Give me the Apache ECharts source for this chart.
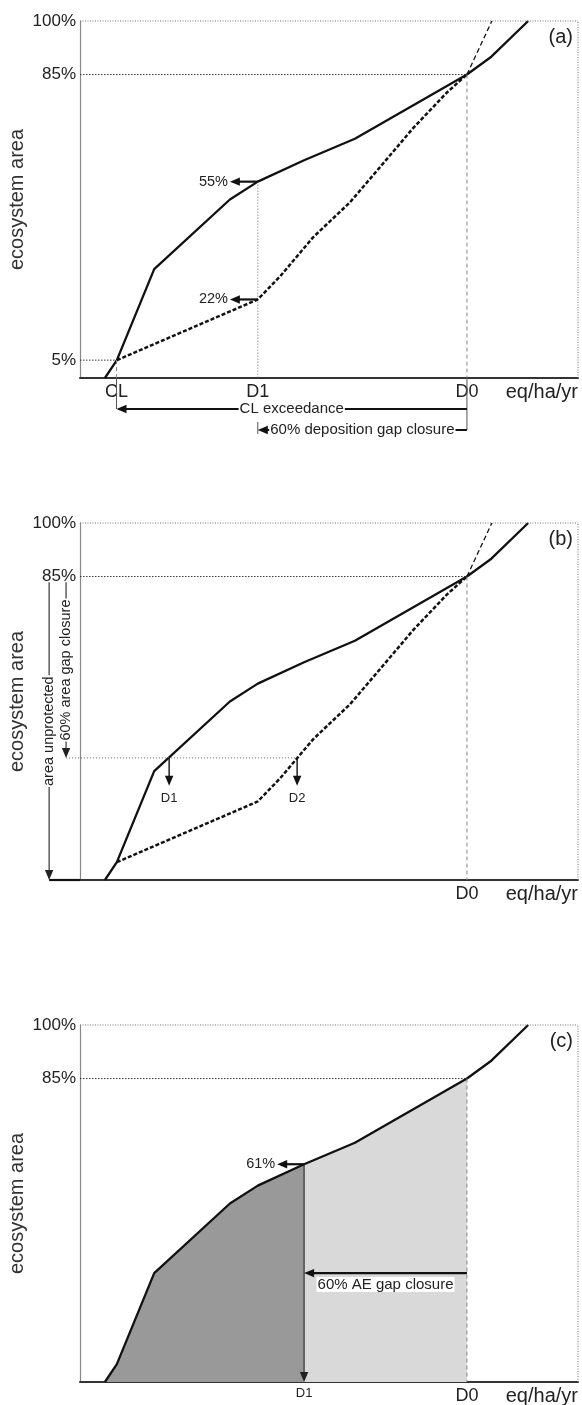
<!DOCTYPE html>
<html><head><meta charset="utf-8">
<script src="https://cdn.jsdelivr.net/npm/echarts@6/dist/echarts.min.js"></script>
<style>html,body{margin:0;padding:0;background:#fff}#c{width:582px;height:1405px}</style>
</head><body><div id="c"></div>
<script>
// ---------------- DATA ----------------
// x: deposition (relative scale 0-100), y: ecosystem area (%)
const solidCurve = [[5,0],[7.4,5],[14.9,30.5],[30.1,50],[35.7,55],[45,61],[55.2,67],[77.7,85],[82.6,90],[90,100]];
const dashedCurveLow = [[7.4,5],[35.7,22],[40.2,28.5],[46.8,39.4],[54.2,49.2],[60.2,59],[66.9,70],[73.7,80],[77.7,85]];
const dashedCurveHigh = [[77.7,85],[82.7,100]];

// key deposition values
const CL = 7.33, D1a = 35.7, D0 = 77.7, D1b = 17.9, D2b = 43.6, D1c = 45.0;
// key area values (%)
const pctCL = 5, pctD1solid = 55, pctD1dashed = 22, pctTarget = 85, pctTop = 100, pctB = 34.2, pctC = 61, pctAE = 30.5;

// tick labels
const yTicksA = [5, 85, 100], yTickLabelsA = ['5%', '85%', '100%'];
const yTicksBC = [85, 100], yTickLabelsBC = ['85%', '100%'];
const xTicksA = [CL, D1a, D0], xTickLabelsA = ['CL', 'D1', 'D0'];
const xTicksB = [D0], xTickLabelsB = ['D0'];
const xTicksC = [D1c, D0], xTickLabelsC = ['{s|D1}', 'D0'];
const panelLabels = ['(a)', '(b)', '(c)'];
const yTitle = 'ecosystem area', xUnit = 'eq/ha/yr';

// ---------------- STYLES / LAYOUT ----------------
const FONT = '"Liberation Sans", Arial, Helvetica, sans-serif';
const TXT = '#222';
const GRIDS = [{top:21},{top:523},{top:1025}];
const PXPCT = 3.57; // px per % (for below-axis offsets)
const STYLES = {
  dot:    {color:'#333', width:1, dash:[1.5,1.5]},
  dotGray:{color:'#777', width:1, dash:[1,1.5]},
  vdash:  {color:'#888', width:1, dash:[4,3]},
  vdot:   {color:'#666', width:1, dash:[1,2]},
  thin:   {color:'#555', width:1},
  arrow:  {color:'#111', width:2.2},
  arrowM: {color:'#111', width:1.4},
  arrowT: {color:'#222', width:1.1}
};
const ARROW_L = 10, ARROW_W = 4.2;
const yBelow = px => -px / PXPCT;

// annotation lists built from the named values
const annA = [
  {from:[0,pctTop], to:[100,pctTop], st:'dotGray'},
  {from:[100,0], to:[100,pctTop], st:'dotGray'},
  {from:[0,pctTarget], to:[D0,pctTarget], st:'dot'},
  {from:[0,pctCL], to:[CL,pctCL], st:'dot'},
  {from:[CL,pctCL], to:[CL,0], st:'vdash'},
  {from:[CL,0], to:[CL,yBelow(31)], st:'thin'},
  {from:[D1a,pctD1solid], to:[D1a,0], st:'vdot'},
  {from:[D1a,yBelow(44)], to:[D1a,yBelow(56)], st:'thin'},
  {from:[D0,pctTarget], to:[D0,0], st:'vdash'},
  {from:[D0,0], to:[D0,yBelow(52)], st:'thin'},
  {from:[D1a,pctD1solid], to:[30.1,pctD1solid], st:'arrow', arrow:true, text:'55%', pos:'end', size:14.5},
  {from:[D1a,pctD1dashed], to:[30.1,pctD1dashed], st:'arrow', arrow:true, text:'22%', pos:'end', size:14.5},
  {from:[D0,yBelow(31)], to:[CL,yBelow(31)], st:'arrow', arrow:true, text:'CL exceedance', pos:'middle', size:15},
  {from:[D0,yBelow(52)], to:[D1a,yBelow(52)], st:'arrow', arrow:true, text:'60% deposition gap closure', pos:'middle', size:15}
];
const annB = [
  {from:[0,pctTop], to:[100,pctTop], st:'dotGray'},
  {from:[100,0], to:[100,pctTop], st:'dotGray'},
  {from:[0,pctTarget], to:[D0,pctTarget], st:'dot'},
  {from:[D0,pctTarget], to:[D0,0], st:'vdash'},
  {from:[-2.8,pctB], to:[D2b,pctB], st:'vdot'},
  {from:[D1b,pctB], to:[D1b,26.4], st:'arrowM', arrow:true, text:'D1', pos:'end', size:13},
  {from:[D2b,pctB], to:[D2b,26.4], st:'arrowM', arrow:true, text:'D2', pos:'end', size:13},
  {from:[-6.2,0], to:[0,0], st:'arrow'},
  {from:[-6.2,83.4], to:[-6.2,0], st:'arrowT', arrow:true, text:'area unprotected', pos:'middle', rotate:true, size:14.5},
  {from:[-2.8,83.4], to:[-2.8,pctB], st:'arrowT', arrow:true, text:'60% area gap closure', pos:'middle', rotate:true, size:14.5}
];
const annC = [
  {from:[0,pctTop], to:[100,pctTop], st:'dotGray'},
  {from:[100,0], to:[100,pctTop], st:'dotGray'},
  {from:[0,pctTarget], to:[D0,pctTarget], st:'dot'},
  {from:[D0,pctTarget], to:[D0,0], st:'vdash'},
  {from:[D1c,pctC], to:[D1c,0], st:'arrowT', arrow:true},
  {from:[D1c,pctC], to:[39.6,pctC], st:'arrow', arrow:true, text:'61%', pos:'end', size:14.5},
  {from:[D0,pctAE], to:[D1c,pctAE], st:'arrow', arrow:true, text:'60% AE gap closure', pos:'below', size:15}
];

function makeRender(specs) {
  return function (params, api) {
    const s = specs[params.dataIndex];
    const st = STYLES[s.st];
    const p1 = api.coord(s.from), p2 = api.coord(s.to);
    const dx = p2[0]-p1[0], dy = p2[1]-p1[1];
    const len = Math.hypot(dx, dy) || 1;
    const ux = dx/len, uy = dy/len;
    const children = [];
    let ex = p2[0], ey = p2[1];
    if (s.arrow) { ex -= ux*ARROW_L*0.6; ey -= uy*ARROW_L*0.6; }
    children.push({type:'line', shape:{x1:p1[0], y1:p1[1], x2:ex, y2:ey},
      style:{stroke:st.color, lineWidth:st.width, lineDash:st.dash || null, fill:null}});
    if (s.arrow) {
      const bx = p2[0]-ux*ARROW_L, by = p2[1]-uy*ARROW_L;
      children.push({type:'polygon', shape:{points:[[p2[0],p2[1]],[bx-uy*ARROW_W, by+ux*ARROW_W],[bx+uy*ARROW_W, by-ux*ARROW_W]]},
        style:{fill:st.color, stroke:null}});
    }
    if (s.text) {
      const ts = {text:s.text, fill:TXT, fontSize:s.size, fontFamily:FONT};
      let x, y, rotation = 0;
      if (s.pos === 'end') {
        const d = 2;
        x = p2[0] + ux*d; y = p2[1] + uy*(d+4);
        ts.align = ux > 0.5 ? 'left' : (ux < -0.5 ? 'right' : 'center');
        ts.verticalAlign = uy > 0.5 ? 'top' : (uy < -0.5 ? 'bottom' : 'middle');
      } else if (s.pos === 'middle') {
        x = (p1[0]+p2[0])/2; y = (p1[1]+p2[1])/2;
        ts.align = 'center'; ts.verticalAlign = 'middle';
        ts.backgroundColor = '#fff'; ts.padding = [0,1];
        if (s.rotate) rotation = Math.PI/2;
      } else {
        x = (p1[0]+p2[0])/2; y = p1[1] + 4;
        ts.align = 'center'; ts.verticalAlign = 'top';
        ts.backgroundColor = '#fff'; ts.padding = [0,1];
      }
      children.push({type:'text', x, y, rotation, style:ts});
    }
    return {type:'group', children};
  };
}

function fmt(vals, labels) {
  return v => { const i = vals.findIndex(t => Math.abs(t - v) < 1e-6); return i < 0 ? '' : labels[i]; };
}

const xAxes = [[xTicksA, xTickLabelsA],[xTicksB, xTickLabelsB],[xTicksC, xTickLabelsC]].map((t, i) => ({
  type:'value', gridIndex:i, min:0, max:100,
  axisLine:{show:true, onZero:true, lineStyle:{color:'#333', width:2}},
  axisTick:{show:false}, splitLine:{show:false},
  axisLabel:{customValues:t[0], formatter:fmt(t[0], t[1]), margin:5, fontSize:18, color:TXT, fontFamily:FONT,
    rich:{s:{fontSize:13, color:TXT, fontFamily:FONT}}},
  name:xUnit, nameLocation:'end', nameGap:0, nameMoveOverlap:false,
  nameTextStyle:{fontSize:20, color:TXT, fontFamily:FONT, align:'right', verticalAlign:'top', padding:[4,0,0,0]}
}));
const yAxes = [[yTicksA, yTickLabelsA],[yTicksBC, yTickLabelsBC],[yTicksBC, yTickLabelsBC]].map((t, i) => ({
  type:'value', gridIndex:i, min:0, max:100,
  axisLine:{show:true, lineStyle:{color:'#888', width:1.2}},
  axisTick:{show:false}, splitLine:{show:false},
  axisLabel:{customValues:t[0], formatter:fmt(t[0], t[1]), margin:4, fontSize:17, color:TXT, fontFamily:FONT},
  name:yTitle, nameLocation:'middle', nameGap:53, nameRotate:90, nameMoveOverlap:false,
  nameTextStyle:{fontSize:20, color:'#333', fontFamily:FONT}
}));

const lineBase = {type:'line', symbol:'none', silent:true, animation:false};
const series = [];
[0,1].forEach(i => {
  series.push(Object.assign({}, lineBase, {xAxisIndex:i, yAxisIndex:i, data:dashedCurveLow, z:2,
    lineStyle:{color:'#111', width:2.5, type:[4,2]}}));
  series.push(Object.assign({}, lineBase, {xAxisIndex:i, yAxisIndex:i, data:dashedCurveHigh, z:2,
    lineStyle:{color:'#111', width:1.3, type:[5,3]}}));
  series.push(Object.assign({}, lineBase, {xAxisIndex:i, yAxisIndex:i, data:solidCurve, z:3,
    lineStyle:{color:'#111', width:2.3}}));
});
series.push(Object.assign({}, lineBase, {xAxisIndex:2, yAxisIndex:2, z:1,
  data:solidCurve.filter(p => p[0] <= D1c), lineStyle:{width:0}, areaStyle:{color:'#999', opacity:1}}));
series.push(Object.assign({}, lineBase, {xAxisIndex:2, yAxisIndex:2, z:1,
  data:solidCurve.filter(p => p[0] >= D1c && p[0] <= D0), lineStyle:{width:0}, areaStyle:{color:'#d9d9d9', opacity:1}}));
series.push(Object.assign({}, lineBase, {xAxisIndex:2, yAxisIndex:2, data:solidCurve, z:3,
  lineStyle:{color:'#111', width:2.3}}));
[annA, annB, annC].forEach((ann, i) => {
  series.push({type:'custom', xAxisIndex:i, yAxisIndex:i, silent:true, animation:false, z:5, clip:false,
    data: ann.map(a => [a.from[0], a.from[1]]), renderItem: makeRender(ann)});
});

const chart = echarts.init(document.getElementById('c'), null, {renderer:'canvas'});
chart.setOption({
  animation:false,
  backgroundColor:'#fff',
  grid: GRIDS.map(g => ({left:80, width:498, top:g.top, height:357, containLabel:false, outerBoundsMode:'none'})),
  title: panelLabels.map((t, i) => ({text:t, right:9, top:GRIDS[i].top + 6, padding:0,
    textStyle:{fontSize:20, fontWeight:'normal', color:TXT, fontFamily:FONT}})),
  xAxis:xAxes, yAxis:yAxes, series
});
</script></body></html>
